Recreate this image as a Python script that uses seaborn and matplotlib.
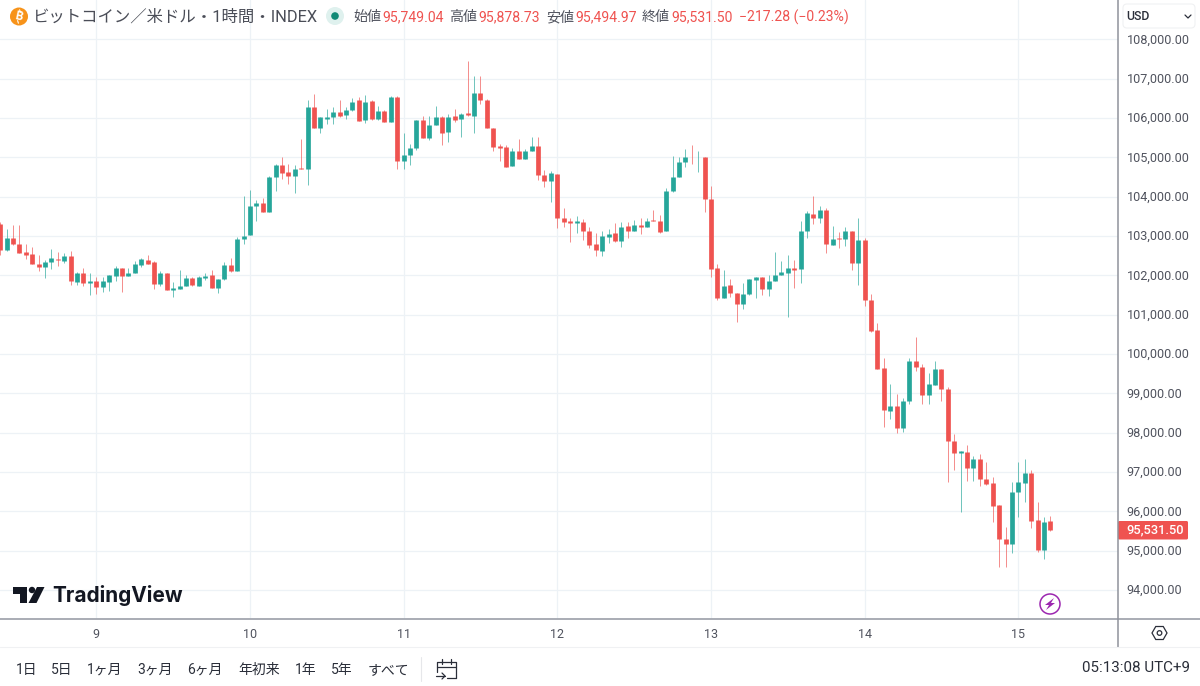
import matplotlib
matplotlib.use('Agg')
import matplotlib.pyplot as plt
from matplotlib.patches import Circle, Polygon, FancyBboxPatch
from matplotlib.transforms import ScaledTranslation
import numpy as np
import pandas as pd
import seaborn as sns

# hourly candles, first one is 15 hours before the "9" tick
opens = [103300, 102640, 102960, 102810, 102590, 102540, 102300, 102210, 102330, 102420, 102360, 102480, 101840, 102070, 101800,
         101850, 101700, 101820, 101980, 102180, 101980, 102070, 102270, 102390, 102340, 101790, 102050, 101640, 101660, 101730, 101940, 101740, 101940, 102000, 101680, 101900, 102260, 102120, 102930,
         103030, 103760, 103850, 103610, 104510, 104800, 104620, 104520, 104740, 104700, 106280, 105740, 105980, 106020, 106150, 106080, 106200, 106450, 105960, 106430, 105980, 106190, 105910, 106530,
         104910, 105070, 105230, 105940, 105480, 105830, 106020, 105640, 106040, 105970, 106120, 106060, 106640, 106460, 105740, 105290, 105270, 104780, 105160, 104960, 105150, 105290, 104540, 104390,
         104570, 103470, 103390, 103320, 103360, 103130, 102790, 102620, 102980, 103070, 102880, 103260, 103130, 103290, 103220, 103400, 103380, 103130, 104140, 104510, 104890, 105020, 105000, 105020,
         103950, 102180, 101420, 101750, 101560, 101270, 101520, 101870, 101970, 101650, 101860, 102000, 102070, 102190, 102150, 103130, 103570, 103450, 103660, 102780, 102950, 102920, 103120, 102310,
         102900, 101380, 100600, 99640, 98550, 98690, 98120, 98800, 99820, 99680, 98960, 99220, 99610, 99120, 97800, 97480, 97500, 97110, 97330, 96820, 96710, 96150, 95300, 95160,
         96480, 96730, 96970, 95770, 95010, 95749.04]
highs = [103360, 103190, 103270, 103270, 102810, 102720, 102510, 102390, 102670, 102590, 102560, 102630, 102090, 102190, 102070,
         101950, 101950, 102020, 102240, 102180, 102180, 102370, 102450, 102510, 102360, 102110, 102050, 101820, 102130, 102010, 101960, 101980, 102050, 102130, 101920, 102330, 102430, 102980, 104020,
         104170, 103910, 103960, 104530, 104820, 105020, 104820, 104800, 105460, 106470, 106610, 106020, 106240, 106280, 106450, 106270, 106510, 106540, 106590, 106450, 106300, 106210, 106560, 106560,
         105620, 105340, 105960, 106050, 106050, 106300, 106040, 106100, 106240, 106130, 107450, 107080, 107070, 106490, 105740, 105340, 105310, 105250, 105460, 105210, 105510, 105510, 104690, 104660,
         104570, 103700, 103460, 103510, 103430, 103220, 103080, 103130, 103190, 103320, 103350, 103360, 103410, 103450, 103450, 103650, 103530, 104210, 105030, 105000, 105210, 105310, 105160, 105020,
         104270, 102300, 102140, 101920, 101560, 101810, 101910, 101970, 101970, 102020, 102590, 102360, 102530, 102390, 103370, 103640, 104020, 103760, 103700, 103250, 103100, 103240, 103120, 103450,
         102960, 101520, 100800, 99900, 99250, 98980, 98880, 99910, 100440, 99750, 99520, 99830, 99630, 99160, 97970, 97530, 97690, 97410, 97460, 97250, 96880, 96150, 95610, 96750,
         97250, 97330, 97050, 96250, 95860, 95878.73]
lows = [102520, 102630, 102760, 102560, 102410, 102290, 102110, 101930, 102160, 102240, 102310, 101760, 101760, 101740, 101500,
        101530, 101570, 101600, 101860, 101570, 101980, 102070, 102220, 102300, 101660, 101740, 101630, 101460, 101660, 101730, 101730, 101740, 101880, 101680, 101550, 101880, 102090, 102120, 102800,
        103030, 103380, 103610, 103600, 104150, 104450, 104320, 104100, 104710, 104300, 105740, 105620, 105850, 105850, 106020, 105970, 106190, 105920, 105880, 105960, 105960, 105900, 105910, 104700,
        104700, 104800, 105190, 105500, 105430, 105820, 105320, 105400, 105900, 105510, 106040, 105630, 106350, 105740, 105170, 104910, 104750, 104780, 104950, 104960, 105150, 104420, 104240, 103870,
        103210, 103240, 102850, 103080, 102900, 102700, 102500, 102500, 102830, 102840, 102730, 102960, 103120, 103050, 103220, 103370, 103080, 103130, 104130, 104510, 104760, 104830, 104630, 103610,
        101960, 101370, 101420, 101440, 100820, 101150, 101500, 101430, 101500, 101470, 101860, 102000, 100950, 101690, 101810, 102940, 103310, 103340, 102560, 102780, 102700, 102740, 102140, 101750,
        101220, 100570, 99630, 98150, 98350, 98000, 98020, 98730, 99580, 98730, 98730, 99220, 98810, 96740, 97050, 95980, 96770, 96770, 96650, 96680, 95730, 94580, 94580, 94930,
        95860, 96230, 95580, 94960, 94800, 95494.97]
closes = [102640, 102960, 102790, 102560, 102520, 102290, 102220, 102340, 102450, 102390, 102500, 101860, 102050, 101800, 101850,
          101700, 101850, 102000, 102180, 101980, 102070, 102300, 102410, 102300, 101790, 102050, 101640, 101690, 101740, 101940, 101750, 101960, 101980, 101680, 101910, 102260, 102110, 102930, 103010,
          103770, 103830, 103610, 104510, 104800, 104600, 104520, 104710, 104710, 106280, 105740, 106020, 106030, 106150, 106060, 106210, 106420, 105920, 106420, 105980, 106190, 105910, 106540, 104910,
          105070, 105230, 105940, 105500, 105830, 106020, 105630, 106020, 105960, 106090, 106070, 106640, 106460, 105740, 105260, 105250, 104750, 105160, 104960, 105160, 105290, 104540, 104390, 104590,
          103470, 103360, 103320, 103390, 103130, 102770, 102640, 103010, 103040, 102870, 103240, 103130, 103290, 103220, 103380, 103370, 103100, 104140, 104510, 104890, 105020, 105000, 105020, 103940,
          102160, 101420, 101740, 101540, 101270, 101520, 101910, 101970, 101650, 101860, 102010, 102080, 102180, 102140, 103130, 103590, 103450, 103650, 102790, 102930, 102920, 103120, 102320, 102900,
          101380, 100590, 99630, 98570, 98690, 98120, 98810, 99820, 99670, 98960, 99230, 99610, 99120, 97800, 97480, 97530, 97100, 97330, 96810, 96700, 96140, 95300, 95160, 96490,
          96740, 96970, 95760, 95020, 95740, 95531.50]

day_labels = ['9', '10', '11', '12', '13', '14', '15']
price_ticks = list(range(94000, 108001, 1000))
range_buttons = ['1日', '5日', '1ヶ月', '3ヶ月', '6ヶ月', '年初来', '1年', '5年', 'すべて']
button_x = [15.5, 51, 87, 137, 187, 238, 295, 331, 368]

UP = '#26a69a'
DOWN = '#ef5350'
GRID = '#edf2f6'
TEXT = '#50535e'
W, H = 1200, 686

sns.set_theme(style='white')
plt.rcParams['font.family'] = ['Roboto', 'Noto Sans CJK JP', 'DejaVu Sans']

hours = np.arange(len(opens)) - 15
df = pd.DataFrame({'hour': hours, 'open': opens, 'high': highs, 'low': lows, 'close': closes})
df['side'] = np.where(df['close'] >= df['open'], 'up', 'down')

wicks = df.melt(id_vars=['hour', 'side'], value_vars=['high', 'low'], value_name='price')
bodies = df.melt(id_vars=['hour', 'side'], value_vars=['open', 'close'], value_name='price')

fig = plt.figure(figsize=(12, 6.86), dpi=100)
fig.patch.set_facecolor('white')

# chart area runs to x=1118, y=619 in pixels
ax = fig.add_axes([0, 1 - 619 / H, 1118 / W, 619 / H])
palette = {'up': UP, 'down': DOWN}
sns.lineplot(data=wicks, x='hour', y='price', hue='side', units='hour', estimator=None, palette=palette,
             linewidth=0.62, alpha=0.75, legend=False, ax=ax, solid_capstyle='butt', zorder=3)
sns.lineplot(data=bodies, x='hour', y='price', hue='side', units='hour', estimator=None, palette=palette,
             linewidth=3.4, alpha=1, legend=False, ax=ax, solid_capstyle='butt', zorder=4)

ax.set_xlim(-15.04, 159.57)
ax.set_ylim(93263, 109001)
ax.set_xlabel('')
ax.set_ylabel('')
ax.set_xticks(np.arange(len(day_labels)) * 24)
ax.set_xticklabels(day_labels)
ax.set_yticks(price_ticks)
ax.set_yticklabels([f'{p:,.2f}' for p in price_ticks])
ax.yaxis.tick_right()
ax.tick_params(axis='x', length=0, pad=6.2, labelsize=9, labelcolor=TEXT)
ax.tick_params(axis='y', length=0, pad=6.3, labelsize=9.1, labelcolor=TEXT)
# price labels sit a pixel above their gridlines
nudge = ScaledTranslation(0, 1 / 100, fig.dpi_scale_trans)
for label in ax.get_yticklabels():
    label.set_transform(label.get_transform() + nudge)
ax.grid(True, color=GRID, linewidth=0.9)
ax.set_axisbelow(True)
for name, spine in ax.spines.items():
    spine.set_visible(False)

# everything around the chart is drawn in pixel coordinates
ov = fig.add_axes([0, 0, 1, 1], facecolor='none')
ov.set_xlim(0, W)
ov.set_ylim(H, 0)
ov.axis('off')

ov.plot([0, W], [619, 619], color='#a3a6af', lw=1.3)
ov.plot([1118, 1118], [0, 647], color='#8f929b', lw=1.1)
ov.plot([0, W], [647, 647], color='#f0f1f3', lw=0.8)

# header, the coin sign is not in any installed font so it gets its strokes by hand
ov.add_patch(Circle((19, 16.5), 9, color='#f7931a', lw=0))
ov.text(19, 16.5, 'B', color='white', fontsize=8.6, ha='center', va='center', weight='bold', rotation=-12)
ov.plot([19.6, 20.4], [9.8, 12.4], color='white', lw=0.8)
ov.plot([17.6, 18.4], [20.6, 23.2], color='white', lw=0.8)
ov.text(33, 16.5, 'ビットコイン／米ドル・1時間・INDEX', color='#4a4d57', fontsize=11.8, va='center')
ov.add_patch(Circle((335, 16), 9, color='#dff1ee', lw=0))
ov.add_patch(Circle((335, 16), 3.8, color='#118a76', lw=0))
header = [(353, '始値', TEXT), (382, '95,749.04', DOWN), (449.5, '高値', TEXT), (478, '95,878.73', DOWN),
          (546, '安値', TEXT), (575, '95,494.97', DOWN), (642, '終値', TEXT), (671, '95,531.50', DOWN),
          (739, '−217.28 (−0.23%)', DOWN)]
for x, label, color in header:
    ov.text(x, 17, label, color=color, fontsize=10.1, va='center')

# currency button
ov.add_patch(FancyBboxPatch((1123, 4), 72, 24, boxstyle='round,pad=0,rounding_size=4', fc='white', ec='#f0f1f3', lw=0.8))
ov.text(1126, 16, 'USD', color='#2a2e39', fontsize=8.8, va='center', weight='medium')
ov.plot([1185, 1188, 1191], [15, 18, 15], color='#2a2e39', lw=0.9)

# last price tag
ov.add_patch(FancyBboxPatch((1118, 521), 70, 18.5, boxstyle='round,pad=0,rounding_size=1.5', fc=DOWN, ec='none'))
ov.text(1155.5, 530, '95,531.50', color='white', fontsize=9.3, ha='center', va='center', weight='medium')

# TradingView logo
ov.add_patch(Polygon([(13, 587), (27, 587), (27, 603), (19.5, 603), (19.5, 594), (13, 594)], color='#131722', lw=0))
ov.add_patch(Circle((32, 590), 3.2, color='#131722', lw=0))
ov.add_patch(Polygon([(37, 587), (44.5, 587), (36.5, 603), (28.5, 603)], color='#131722', lw=0))
ov.text(52, 595, 'TradingView', color='#131722', fontsize=15, va='center', weight='bold', family=['Inter', 'DejaVu Sans'])

# lightning badge
ov.add_patch(Circle((1050, 604), 10, fc='white', ec='#9c27b0', lw=1.1))
ov.add_patch(Polygon([(1054, 598), (1045, 605), (1049, 605), (1046, 610), (1055, 603), (1051, 603)], color='#9c27b0', lw=0))

# settings icon
angles = np.deg2rad(np.arange(0, 360, 60))
ov.add_patch(Polygon(np.column_stack([1159.5 + 7.5 * np.cos(angles), 633 + 7.5 * np.sin(angles)]), fc='white', ec='#2a2e39', lw=0.9))
ov.add_patch(Circle((1159.5, 633), 2.3, fc='white', ec='#2a2e39', lw=0.9))

# bottom bar
for x, label in zip(button_x, range_buttons):
    ov.text(x, 670, label, color='#2a2e39', fontsize=10, va='center')
ov.plot([420.5, 420.5], [657, 681], color='#e6e7ea', lw=0.8)
ov.plot([437, 437, 456, 456], [672, 662, 662, 678], color='#2a2e39', lw=0.9)
ov.plot([447, 456], [678, 678], color='#2a2e39', lw=0.9)
ov.plot([437, 456], [667, 667], color='#2a2e39', lw=0.9)
ov.plot([442, 442], [659, 664], color='#2a2e39', lw=0.9)
ov.plot([451, 451], [659, 664], color='#2a2e39', lw=0.9)
ov.plot([436, 445], [676, 676], color='#2a2e39', lw=0.9)
ov.plot([442, 445, 442], [673, 676, 679], color='#2a2e39', lw=0.9)
ov.text(1190, 668, '05:13:08 UTC+9', color='#2a2e39', fontsize=10.9, ha='right', va='center')

fig.savefig('out.png', dpi=100)
